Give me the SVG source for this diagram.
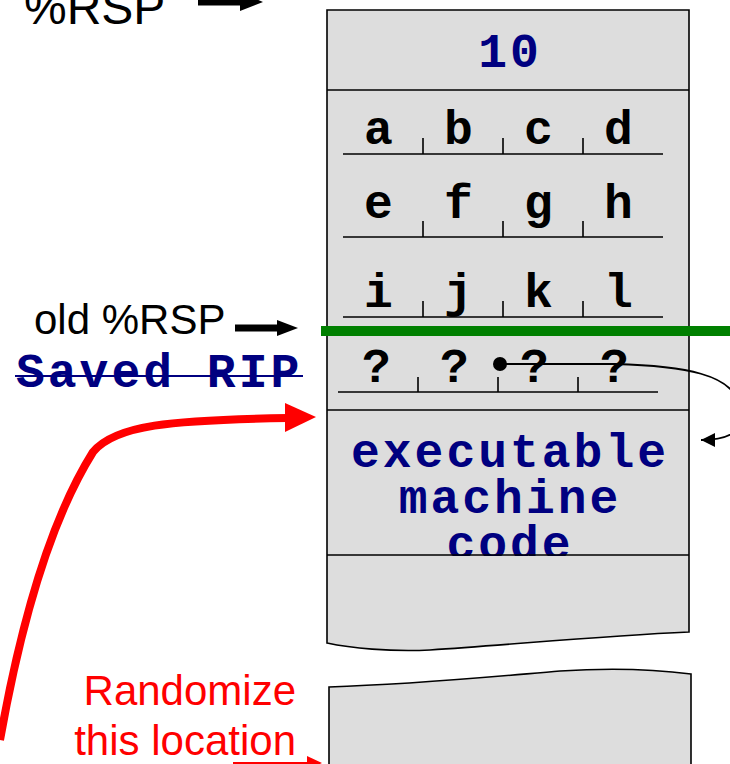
<svg xmlns="http://www.w3.org/2000/svg" width="730" height="764" viewBox="0 0 730 764">
<style>
.mono{font-family:"Liberation Mono","Courier New",monospace;font-weight:bold;font-size:48px;letter-spacing:3px}
.navy{fill:#000080}
.blk{fill:#000}
.sans{font-family:"Liberation Sans",Arial,sans-serif;font-size:42px}
.box{fill:#dddddd}
.edge{fill:none;stroke:#000;stroke-width:1.6}
.ul{stroke:#000;stroke-width:1.6;fill:none}
</style>
<defs>
<marker id="ah" markerUnits="userSpaceOnUse" markerWidth="16" markerHeight="14" refX="14" refY="7" orient="auto">
<path d="M0,0 L14,7 L0,14 Z" fill="#000"/>
</marker>
</defs>
<rect width="730" height="764" fill="#fff"/>

<g id="stack">
<path class="box" d="M327,10 H689 V632 C600,636 520,644 430,650 C390,652 350,648 327,643 Z"/>
<text class="mono navy" x="510" y="67" text-anchor="middle">10</text>
<g id="row-abcd" text-anchor="middle">
<text class="mono blk" x="380" y="144">a</text>
<text class="mono blk" x="460" y="144">b</text>
<text class="mono blk" x="540" y="144">c</text>
<text class="mono blk" x="620" y="144">d</text>
<path class="ul" d="M343,154 H663 M423,138 V154 M503,138 V154 M583,138 V154"/>
</g>
<g id="row-efgh" text-anchor="middle">
<text class="mono blk" x="380" y="218">e</text>
<text class="mono blk" x="460" y="218">f</text>
<text class="mono blk" x="540" y="218">g</text>
<text class="mono blk" x="620" y="218">h</text>
<path class="ul" d="M343,237 H663 M423,221 V237 M503,221 V237 M583,221 V237"/>
</g>
<g id="row-ijkl" text-anchor="middle">
<text class="mono blk" x="380" y="307">i</text>
<text class="mono blk" x="460" y="307">j</text>
<text class="mono blk" x="540" y="307">k</text>
<text class="mono blk" x="620" y="307">l</text>
<path class="ul" d="M343,317 H663 M423,301 V317 M503,301 V317 M583,301 V317"/>
</g>
<g id="row-q" text-anchor="middle">
<text class="mono blk" x="378" y="382">?</text>
<text class="mono blk" x="456" y="382">?</text>
<text class="mono blk" x="536" y="382">?</text>
<text class="mono blk" x="616" y="382">?</text>
<path class="ul" d="M338,392 H658 M418,377 V392 M498,377 V392 M578,377 V392"/>
</g>
<g id="code" text-anchor="middle">
<text class="mono navy" x="510" y="467">executable</text>
<text class="mono navy" x="510" y="513">machine</text>
<text class="mono navy" x="510" y="559">code</text>
</g>
<path class="box" d="M328,556 H688 V632 C600,636 520,644 430,650 C390,652 350,648 328,643 Z"/>
<path class="edge" d="M327,10 H689 V632 C600,636 520,644 430,650 C390,652 350,648 327,643 Z"/>
<path class="ul" d="M327,90 H689 M327,410 H689 M327,555 H689"/>
</g>

<g id="stack-lower">
<path class="box" d="M329,770 V687 C420,684 500,676 560,671 C620,667 660,670 691,674 V770 Z" stroke="#000" stroke-width="1.6"/>
</g>

<g id="labels">
<text class="sans" x="24" y="24" style="font-size:48px">%RSP</text>
<text class="sans" x="34" y="334">old %RSP</text>
<g id="saved-rip">
<text class="mono navy" x="16" y="387">Saved RIP</text>
<line x1="15" y1="376" x2="303" y2="376" stroke="#000080" stroke-width="2"/>
</g>
<text class="sans" x="296" y="705" text-anchor="end" fill="#ff0000">Randomize</text>
<text class="sans" x="296" y="755" text-anchor="end" fill="#ff0000">this location</text>
</g>

<g id="connectors">
<rect x="198" y="-1.5" width="44" height="7" fill="#000"/>
<path d="M240,-8 L263,2 L240,11 Z" fill="#000"/>
<rect x="235" y="324.5" width="43" height="7" fill="#000"/>
<path d="M277,320 L298,328 L277,336 Z" fill="#000"/>
<line x1="321" y1="331" x2="730" y2="331" stroke="#008000" stroke-width="10"/>
<circle cx="500" cy="364" r="7" fill="#000"/>
<path d="M500,364 H615 C690,366 728,376 738,400 C745,425 740,440 701,440" fill="none" stroke="#000" stroke-width="1.8" marker-end="url(#ah)"/>
<path d="M0,740 C16,650 44,530 93,452 C115,425 170,420 288,418" fill="none" stroke="#ff0000" stroke-width="8"/>
<path d="M285,403 L316,417 L285,432 Z" fill="#ff0000"/>
<line x1="233" y1="763" x2="310" y2="763" stroke="#ff0000" stroke-width="2"/>
<path d="M307,756 L322,763 L307,770 Z" fill="#ff0000"/>
</g>
</svg>
